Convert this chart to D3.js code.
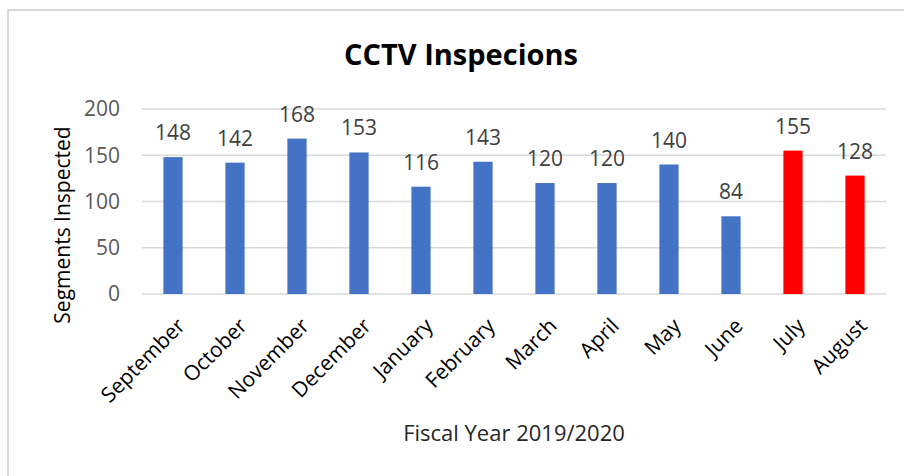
<!DOCTYPE html>
<html>
<head>
<meta charset="utf-8">
<script src="https://cdn.jsdelivr.net/npm/d3@7"></script>
<style>
  body { margin: 0; background: #fff; }
  svg { display: block; font-family: "Open Sans", sans-serif; }
</style>
</head>
<body>
<svg id="chart" width="904" height="476"></svg>
<script>
var months = ['September', 'October', 'November', 'December', 'January', 'February',
    'March', 'April', 'May', 'June', 'July', 'August'];
var inspected = [148, 142, 168, 153, 116, 143, 120, 120, 140, 84, 155, 128];
var highlighted = ['July', 'August'];
var yTicks = [0, 50, 100, 150, 200];

var BLUE = '#4472C4';
var RED = '#FF0000';
var GRID_COLOR = '#d9d9d9';

var svg = d3.select('#chart');

// outer frame, runs off the right and bottom edges like the screenshot
svg.append('rect')
    .attr('x', 8).attr('y', 10)
    .attr('width', 920).attr('height', 500)
    .attr('fill', '#fff')
    .attr('stroke', GRID_COLOR)
    .attr('stroke-width', 2);

var x = d3.scaleBand()
    .domain(months)
    .range([142, 886])
    .paddingInner(0.69)
    .paddingOuter(0.345);
var y = d3.scaleLinear().domain([0, 200]).range([294, 109]);

// gridlines
svg.append('g').selectAll('line')
    .data(yTicks).enter().append('line')
    .attr('x1', 142).attr('x2', 886)
    .attr('y1', y).attr('y2', y)
    .attr('stroke', GRID_COLOR)
    .attr('stroke-width', 1.5);

// y tick labels
svg.append('g').selectAll('text')
    .data(yTicks).enter().append('text')
    .attr('x', 120)
    .attr('y', y)
    .attr('dy', '0.35em')
    .attr('text-anchor', 'end')
    .attr('fill', '#595959')
    .style('font-size', '21px')
    .text(function (d) { return d; });

// bars
var data = months.map(function (m, i) { return { month: m, value: inspected[i] }; });
svg.append('g').selectAll('rect')
    .data(data).enter().append('rect')
    .attr('x', function (d) { return x(d.month); })
    .attr('width', x.bandwidth())
    .attr('y', function (d) { return y(d.value); })
    .attr('height', function (d) { return y(0) - y(d.value); })
    .attr('fill', function (d) { return highlighted.indexOf(d.month) >= 0 ? RED : BLUE; });

// value labels
svg.append('g').selectAll('text')
    .data(data).enter().append('text')
    .attr('x', function (d) { return x(d.month) + x.bandwidth() / 2; })
    .attr('y', function (d) { return y(d.value) - 17; })
    .attr('text-anchor', 'middle')
    .attr('fill', '#404040')
    .style('font-size', '21px')
    .text(function (d) { return d.value; });

// month labels, rotated
svg.append('g').selectAll('text')
    .data(months).enter().append('text')
    .attr('transform', function (d) {
        return 'translate(' + (x(d) + x.bandwidth() / 2 + 8) + ',322)rotate(-45)';
    })
    .attr('dy', '0.35em')
    .attr('text-anchor', 'end')
    .attr('fill', '#000')
    .style('font-size', '21px')
    .text(function (d) { return d; });

// titles
svg.append('text')
    .attr('x', 461).attr('y', 65)
    .attr('text-anchor', 'middle')
    .attr('fill', '#000')
    .style('font-size', '29px')
    .style('font-weight', 'bold')
    .text('CCTV Inspecions');

svg.append('text')
    .attr('x', 514).attr('y', 441)
    .attr('text-anchor', 'middle')
    .attr('fill', '#262626')
    .style('font-size', '22px')
    .text('Fiscal Year 2019/2020');

svg.append('text')
    .attr('transform', 'translate(70,225)rotate(-90)')
    .attr('text-anchor', 'middle')
    .attr('fill', '#000')
    .style('font-size', '21px')
    .text('Segments Inspected');
</script>
</body>
</html>
